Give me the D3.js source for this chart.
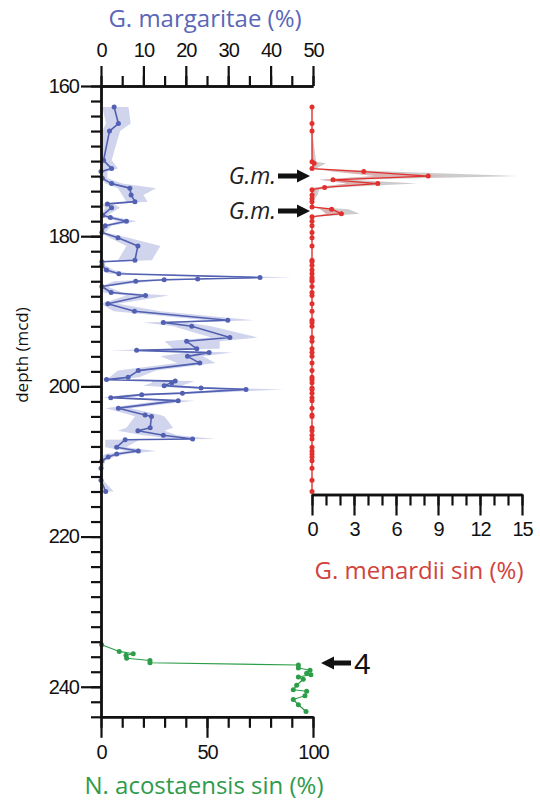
<!DOCTYPE html>
<html><head><meta charset="utf-8">
<script src="https://cdn.jsdelivr.net/npm/d3@7"></script>
<style>
body{margin:0;background:#fff;}
svg{display:block;}
.tk text{font-family:"Liberation Sans",Arial,sans-serif;font-size:20px;fill:#111;letter-spacing:-1px;}
.tk path,.tk line{stroke:#111;}
</style></head>
<body><svg id="c" width="540" height="803"></svg>
<script>
// ---- data ----
const depthTicksMajor = [160, 180, 200, 220, 240];
const margTicksMajor = [0, 10, 20, 30, 40, 50];
const menTicksMajor = [0, 3, 6, 9, 12, 15];
const acoTicksMajor = [0, 50, 100];

// G. margaritae (%)
const margDepth = [162.8,165.0,166.0,169.9,171.0,171.4,172.3,173.0,173.6,174.5,175.4,175.7,176.2,177.2,177.5,178.0,178.6,179.5,180.2,181.3,183.2,183.4,183.9,184.5,185.0,185.5,185.7,185.8,186.0,186.7,187.5,187.9,189.0,190.0,191.2,191.5,192.0,193.5,194.0,195.0,195.2,195.5,196.0,196.9,197.9,198.8,199.1,199.3,199.5,199.9,200.2,200.4,200.9,201.1,201.5,201.9,202.9,203.8,204.0,205.5,205.9,206.5,207.0,207.1,208.1,208.6,209.0,209.4,209.9,210.9,212.5,214.0];
const margValue = [3.1,4.1,2.0,0.6,2.5,0.0,0.3,2.5,6.8,7.1,8.0,1.5,2.5,0.4,2.2,6.0,1.0,0.2,4.0,8.7,8.0,0.2,0.2,1.3,4.2,37.5,22.8,14.9,8.2,0.2,2.4,10.5,1.6,7.9,29.9,14.7,21.4,30.4,20.2,22.6,8.4,25.5,20.4,23.3,8.8,6.4,1.3,17.5,16.7,14.9,23.6,34.2,19.2,9.6,2.3,18.2,4.1,10.4,11.9,11.6,8.7,14.7,21.6,5.7,3.7,8.8,3.7,1.7,0.2,0.0,0.0,1.1];
const margLow = [0.3,1.2,0.3,0,0.5,0,0,1.0,4.0,5.0,6.0,0,1.0,0,0.5,4.0,0,0,2.0,6.0,4.0,0,0,0,2.0,34,20,10,3,0,0.5,6,0,3,25,10,17,26,15,17,2,20,14,18,4,2,0,12,12,10,19,30,15,6,0,14,1,7,8,6,4,10,17,1,1,6,1,0,0,0,0,0];
const margHigh = [6.5,7.0,4.5,2.5,4.0,1.5,1.5,5.0,13.0,10.0,11.0,3.0,4.5,1.5,4.0,8.5,2.5,1.0,6.5,14.0,12.0,1.0,1.0,3.0,7.0,45,27,20,12,1.5,5,16,4,14,36,20,26,37,28,28,12,31,24,27,13,9,3,22,21,19,28,43,24,14,5,22,7,14,15,17,15,18,27,9,6,13,6,3,1,0.5,0.5,3];

// G. menardii sin (%)
const menDepth = [162.8,165.0,166.0,170.1,170.3,171.0,171.4,172.0,172.5,173.0,173.5,173.8,174.5,175.0,175.4,176.1,176.4,177.0,177.4,178.0,178.6,179.5,180.2,181.3,183.2,183.4,183.9,184.5,185.0,185.5,185.8,186.0,186.7,187.5,187.9,189.0,190.0,191.2,191.5,192.0,193.5,194.0,195.0,195.5,196.0,196.9,197.9,198.8,199.1,199.5,200.2,200.4,200.9,201.5,201.9,202.9,203.8,204.0,205.5,205.9,206.5,207.0,208.1,208.6,209.0,209.4,209.9,210.9,212.5,214.0];
const menValue = [0,0,0,0,0.15,0,3.7,8.3,1.5,4.7,0.9,0,0,0,0,0,1.4,2.1,0,0,0,0,0,0,0,0,0,0,0,0,0,0,0,0,0,0,0,0,0,0,0,0,0,0,0,0,0,0,0,0,0,0,0,0,0,0,0,0,0,0,0,0,0,0,0,0,0,0,0,0];
const menLow = [0,0,0,0,0,0,1.5,4.5,0.5,2.5,0.2,0,0,0,0,0,0.6,1.0,0,0,0,0,0,0,0,0,0,0,0,0,0,0,0,0,0,0,0,0,0,0,0,0,0,0,0,0,0,0,0,0,0,0,0,0,0,0,0,0,0,0,0,0,0,0,0,0,0,0,0,0];
const menHigh = [0,0,0,0.3,1.0,0.3,5.5,14.7,2.8,7.5,1.6,0.5,0.4,0.2,0,0.2,2.6,3.4,0.3,0,0,0,0,0,0,0,0,0,0,0,0,0,0,0,0,0,0,0,0,0,0,0,0,0,0,0,0,0,0,0,0,0,0,0,0,0,0,0,0,0,0,0,0,0,0,0,0,0,0,0];

// N. acostaensis sin (%)
const acoDepth = [234.4,235.3,235.6,235.8,236.2,236.5,236.8,237.1,237.5,237.8,238.2,238.4,238.7,239.0,239.8,240.4,240.6,241.2,241.7,242.4,243.3];
const acoValue = [0.3,8.6,15.2,11.8,12.1,23.1,23.1,93.1,93.1,98.6,97.0,99.0,93.1,95.4,92.3,90.7,97.0,96.2,90.7,93.1,96.7];

// ---- layout ----
const svg = d3.select("#c");
const y = d3.scaleLinear().domain([160, 244]).range([86, 716.8]);
const xM = d3.scaleLinear().domain([0, 50]).range([101, 313]);
const xR = d3.scaleLinear().domain([0, 15]).range([312, 522]);
const xA = d3.scaleLinear().domain([0, 100]).range([101, 313]);
const redAxisY = 494.5;

const cBlue = "#5260b2", cRed = "#e2302f", cGreen = "#2c9d48";
const cBlueT = "#5a67b8", cRedT = "#d0433d", cGreenT = "#2e9a4b";

// ---- bands ----
const margRows = margDepth.map((d,i)=>({d, v:margValue[i], lo:margLow[i], hi:margHigh[i]}));
const menRows = menDepth.map((d,i)=>({d, v:menValue[i], lo:menLow[i], hi:menHigh[i]}));
const acoRows = acoDepth.map((d,i)=>({d, v:acoValue[i]}));

svg.append("path").datum(margRows)
  .attr("d", d3.area().y(r=>y(r.d)).x0(r=>xM(r.lo)).x1(r=>xM(r.hi)))
  .attr("fill", "#8a94d0").attr("fill-opacity", 0.4);

svg.append("path").datum(menRows)
  .attr("d", d3.area().y(r=>y(r.d)).x0(r=>xR(r.lo)).x1(r=>xR(r.hi)))
  .attr("fill", "#9a9a9a").attr("fill-opacity", 0.5);
svg.append("path").datum(menRows)
  .attr("d", d3.area().y(r=>y(r.d)).x0(r=>xR(Math.min(r.v, r.lo))).x1(r=>xR(Math.max(r.v, (r.lo+r.hi)/2))))
  .attr("fill", "#f08080").attr("fill-opacity", 0.35);

// ---- lines & points ----
function series(rows, xs, col, lw, rad){
  svg.append("path").datum(rows)
    .attr("d", d3.line().x(r=>xs(r.v)).y(r=>y(r.d)))
    .attr("fill","none").attr("stroke",col).attr("stroke-width",lw).attr("stroke-linejoin","round");
  svg.append("g").selectAll("circle").data(rows).join("circle")
    .attr("cx", r=>xs(r.v)).attr("cy", r=>y(r.d)).attr("r", rad).attr("fill", col);
}
series(margRows, xM, cBlue, 1.6, 2.5);
series(menRows, xR, cRed, 1.4, 2.5);
series(acoRows, xA, cGreen, 1.2, 2.5);

// ---- axes ----
function styleAxis(g){
  g.attr("class","tk");
  g.selectAll("path.domain").attr("stroke-width", 2.4);
  g.selectAll("line").attr("stroke-width", 2.2);
}
// left depth axis
svg.append("g").attr("transform","translate(101,0)")
  .call(d3.axisLeft(y).tickValues(d3.range(160, 245, 2)).tickSize(10).tickSizeOuter(0).tickFormat(""))
  .call(styleAxis);
svg.append("g").attr("transform","translate(101,0)")
  .call(d3.axisLeft(y).tickValues(depthTicksMajor).tickSize(20).tickSizeOuter(0).tickPadding(2))
  .call(styleAxis);
// top G. margaritae axis
svg.append("g").attr("transform",`translate(0,${y(160)})`)
  .call(d3.axisTop(xM).tickValues(d3.range(0, 51, 5)).tickSize(10).tickSizeOuter(0).tickFormat(""))
  .call(styleAxis);
svg.append("g").attr("transform",`translate(0,${y(160)})`)
  .call(d3.axisTop(xM).tickValues(margTicksMajor).tickSize(20).tickSizeOuter(0).tickPadding(9))
  .call(styleAxis);
// red axis
svg.append("g").attr("transform",`translate(0,${redAxisY})`)
  .call(d3.axisBottom(xR).tickValues(d3.range(0, 16, 1)).tickSize(11).tickSizeOuter(0).tickFormat(""))
  .call(styleAxis);
svg.append("g").attr("transform",`translate(0,${redAxisY})`)
  .call(d3.axisBottom(xR).tickValues(menTicksMajor).tickSize(21).tickSizeOuter(0).tickPadding(6))
  .call(styleAxis);
// green axis
svg.append("g").attr("transform",`translate(0,${y(244)})`)
  .call(d3.axisBottom(xA).tickValues(d3.range(0, 101, 10)).tickSize(11).tickSizeOuter(0).tickFormat(""))
  .call(styleAxis);
svg.append("g").attr("transform",`translate(0,${y(244)})`)
  .call(d3.axisBottom(xA).tickValues(acoTicksMajor).tickSize(21).tickSizeOuter(0).tickPadding(7))
  .call(styleAxis);

// ---- titles ----
const tf = "'Open Sans','Noto Sans',sans-serif";
svg.append("text").attr("x",205).attr("y",27).attr("text-anchor","middle")
  .style("font-family",tf).style("font-size","24px").attr("fill",cBlueT).text("G. margaritae (%)");
svg.append("text").attr("x",419).attr("y",579).attr("text-anchor","middle")
  .style("font-family",tf).style("font-size","24px").attr("fill",cRedT).text("G. menardii sin (%)");
svg.append("text").attr("x",204).attr("y",794).attr("text-anchor","middle")
  .style("font-family",tf).style("font-size","24px").attr("fill",cGreenT).text("N. acostaensis sin (%)");
svg.append("text").attr("transform","translate(28,355) rotate(-90)").attr("text-anchor","middle")
  .style("font-family",tf).style("font-size","17px").attr("fill","#111").text("depth (mcd)");

// ---- annotations ----
function arrowRight(tipX, cy){
  svg.append("path").attr("fill","#111")
    .attr("d",`M${tipX-32},${cy-2.5}L${tipX-13},${cy-2.5}L${tipX-13},${cy-6.5}L${tipX},${cy}L${tipX-13},${cy+6.5}L${tipX-13},${cy+2.5}L${tipX-32},${cy+2.5}Z`);
}
function arrowLeft(tipX, cy){
  svg.append("path").attr("fill","#111")
    .attr("d",`M${tipX+30},${cy-2.5}L${tipX+13},${cy-2.5}L${tipX+13},${cy-6.5}L${tipX},${cy}L${tipX+13},${cy+6.5}L${tipX+13},${cy+2.5}L${tipX+30},${cy+2.5}Z`);
}
[[176,"G.m."],[211,"G.m."]].forEach(([cy,t])=>{
  svg.append("text").attr("x",276).attr("y",cy+8).attr("text-anchor","end")
    .style("font-family",tf).style("font-style","italic").style("font-size","23px").attr("fill","#222").text(t);
  arrowRight(310, cy);
});
arrowLeft(321, 663);
svg.append("text").attr("x",354).attr("y",674).style("font-family","'Liberation Sans',Arial,sans-serif")
  .style("font-size","30px").attr("fill","#111").text("4");
</script></body></html>
